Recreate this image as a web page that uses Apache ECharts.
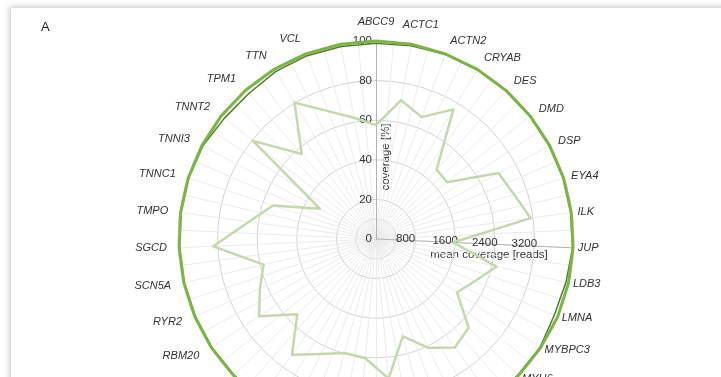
<!DOCTYPE html>
<html><head><meta charset="utf-8">
<script src="https://cdn.jsdelivr.net/npm/echarts@6/dist/echarts.min.js"></script>
<style>
html,body{margin:0;padding:0;background:#fff;width:721px;height:377px;overflow:hidden}
#card{position:absolute;left:11px;top:8px;width:760px;height:420px;background:#fff;box-shadow:0 0 6px 1px rgba(0,0,0,0.25)}
#chart{position:absolute;left:0;top:0;width:721px;height:377px}
</style></head><body>
<div id="card"></div><div id="chart"></div>
<script>
// genes in clockwise order starting at the top
const genes = ['ABCC9','ACTC1','ACTN2','CRYAB','DES','DMD','DSP','EYA4','ILK','JUP','LDB3','LMNA','MYBPC3','MYH6','MYH7','MYL2','MYL3','MYOZ2','NEXN','PKP2','PLN','PSEN1','PSEN2','RBM20','RYR2','SCN5A','SGCD','TMPO','TNNC1','TNNI3','TNNT2','TPM1','TTN','VCL',''];
// mean coverage [reads]
const meanCoverage = [2300,2850,2630,3050,1860,1840,2810,2930,3150,1560,2500,2170,1960,2590,2710,2440,2040,2830,2420,2390,2580,2890,2200,2830,2550,2330,3290,2590,2190,1290,3180,2280,3210,2760,2490];
// coverage [%] (two overlapping traces)
const coverageA = [100,100,99.8,99.8,99.7,99.6,99.6,99.6,99.5,99.6,99.7,99.8,99.6,99.6,99.6,99.6,99.6,99.6,99.6,99.6,99.6,99.6,99.6,99.6,99.5,99.5,99.5,99.6,99.7,99.8,99.9,99.9,100,100,100];
const coverageB = [98.8,99.2,99.6,99.6,99.5,99.4,99.4,99.4,99.3,99.4,98.4,97.9,99.3,99.4,99.4,99.4,99.4,99.4,99.4,99.4,99.4,99.4,99.4,99.4,99.3,99.3,99.3,99.4,99.5,99.3,97.9,97.6,98.6,98.9,98.8];
const pctMax = 100;
const readsMax = 4000;
const readsAxisGene = 'JUP';

const N = genes.length;
const ord = genes.map((_, i) => (N - i) % N); // ECharts radar runs counter-clockwise
const CX = 376, CY = 239, R = 198;
const FONT = "'Liberation Sans', Arial, sans-serif";

const indA = ord.map(k => {
  const th = k * 2 * Math.PI / N;
  const s = Math.sin(th), c = Math.cos(th);
  let gap;
  if (k === 0) gap = 14;
  else if (s > 0) gap = 4 + 10 * Math.max(0, c);
  else gap = 11 + 5 * Math.abs(c);
  const ind = { name: genes[k], min: 0, max: pctMax, nameGap: gap };
  if (k !== 0 && Math.abs(s) < 0.3) ind.nameTextStyle = { align: 'center', verticalAlign: c > 0 ? 'bottom' : 'top', padding: s > 0 ? [0, 0, 0, 14] : [0, 14, 0, 0] };
  if (k === 0) {
    ind.axisLine = { show: true, lineStyle: { color: '#b3b3b3', width: 1 } };
    ind.axisLabel = { show: true, color: '#333', fontSize: 11.5, fontFamily: FONT, margin: 4 };
  }
  return ind;
});
const jupIdx = genes.indexOf(readsAxisGene);
const indB = ord.map(k => {
  const ind = { name: '', min: 0, max: readsMax };
  if (k === jupIdx) {
    ind.axisLine = { show: true, lineStyle: { color: '#b3b3b3', width: 1 } };
    ind.axisLabel = { show: true, color: '#333', fontSize: 11.5, fontFamily: FONT, margin: 2,
      align: 'center', padding: [0, 20, 0, 0],
      formatter: v => (v === 0 || v === readsMax) ? '' : String(v) };
  }
  return ind;
});
const spokes = Array.from({ length: N * 2 }, () => ({ name: '', min: 0, max: 1 }));

const chart = echarts.init(document.getElementById('chart'), null, { renderer: 'canvas' });
chart.setOption({
  animation: false,
  backgroundColor: 'transparent',
  radar: [
    { center: [CX, CY], radius: R, indicator: spokes, shape: 'circle', splitNumber: 1,
      axisName: { show: false }, splitLine: { show: false }, splitArea: { show: false },
      axisLine: { show: true, lineStyle: { color: '#ebebeb', width: 1 } }, axisTick: { show: false }, axisLabel: { show: false } },
    { center: [CX, CY], radius: 20, indicator: spokes, shape: 'circle', splitNumber: 1,
      axisName: { show: false }, splitLine: { show: true, lineStyle: { color: '#d2d2d2', width: 1 } }, splitArea: { show: false },
      axisLine: { show: false }, axisTick: { show: false }, axisLabel: { show: false } },
    { center: [CX, CY], radius: R, indicator: indA, shape: 'circle', splitNumber: 5,
      axisName: { show: true, color: '#333', fontSize: 11, fontStyle: 'italic', fontFamily: FONT },
      splitLine: { show: true, lineStyle: { color: '#d2d2d2', width: 1 } }, splitArea: { show: false },
      axisLine: { show: false }, axisTick: { show: false }, axisLabel: { show: false } },
    { center: [CX, CY], radius: R, indicator: indB, shape: 'circle', splitNumber: 5,
      axisName: { show: false }, splitLine: { show: false }, splitArea: { show: false },
      axisLine: { show: false }, axisTick: { show: false }, axisLabel: { show: false } }
  ],
  graphic: [
    { type: 'text', x: 41, y: 21, style: { text: 'A', fill: '#222', font: "13px " + FONT } },
    { type: 'text', x: 386, y: 157, rotation: Math.PI / 2,
      style: { text: 'coverage [%]', fill: '#333', font: "11.5px " + FONT, align: 'center', verticalAlign: 'middle' } },
    { type: 'text', x: 489, y: 255,
      style: { text: 'mean coverage [reads]', fill: '#333', font: "11.5px " + FONT, align: 'center', verticalAlign: 'middle' } }
  ],
  series: [
    { type: 'radar', radarIndex: 3, symbol: 'none', silent: true,
      lineStyle: { color: '#c5d8ad', width: 2.5 }, data: [{ value: ord.map(k => meanCoverage[k]) }] },
    { type: 'radar', radarIndex: 2, symbol: 'none', silent: true,
      lineStyle: { color: '#4e7d28', width: 1.5 }, data: [{ value: ord.map(k => coverageB[k]) }] },
    { type: 'radar', radarIndex: 2, symbol: 'none', silent: true,
      lineStyle: { color: '#7db446', width: 3 }, data: [{ value: ord.map(k => coverageA[k]) }] }
  ]
});
</script>
</body></html>
